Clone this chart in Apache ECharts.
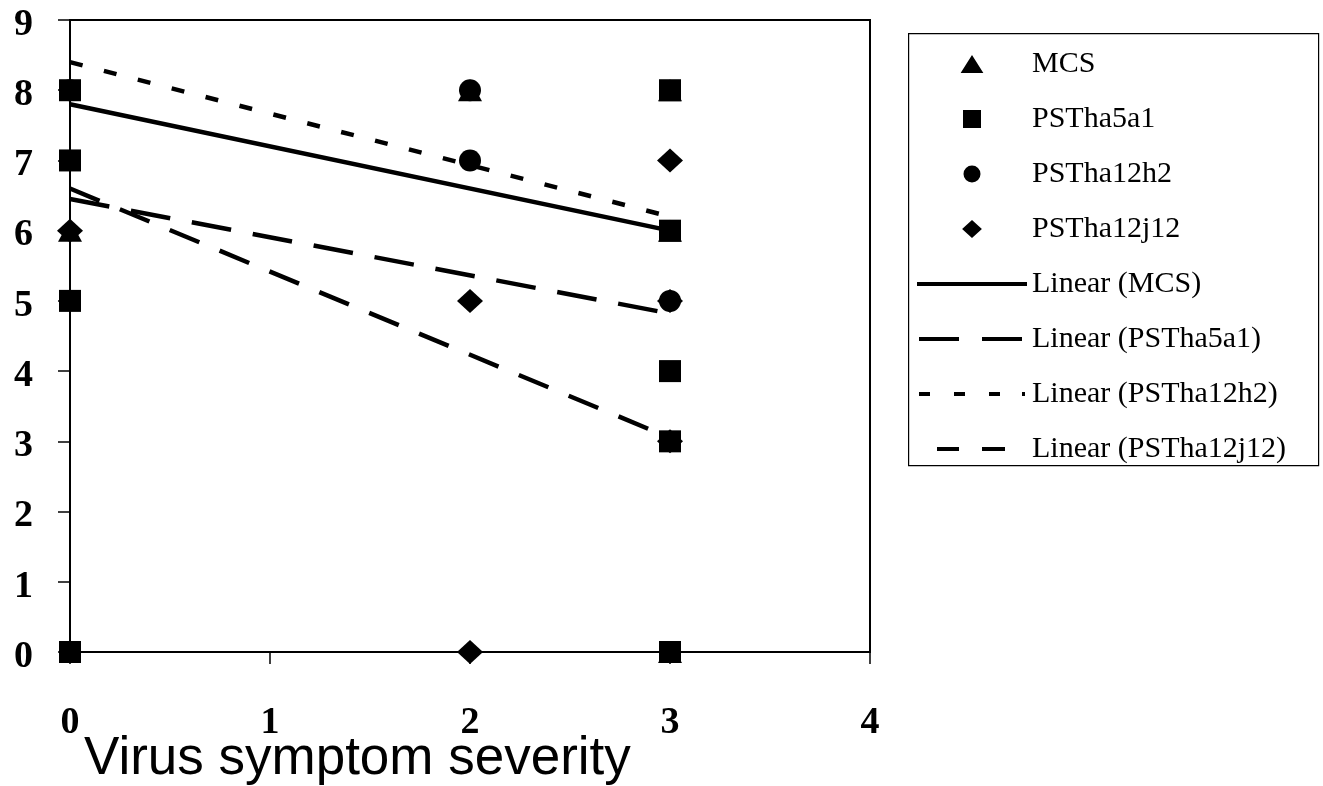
<!DOCTYPE html>
<html>
<head>
<meta charset="utf-8">
<script src="https://cdn.jsdelivr.net/npm/echarts@6/dist/echarts.min.js"></script>
<style>
html,body{margin:0;padding:0;background:#fff;}
#chart{width:1323px;height:786px;}
</style>
</head>
<body>
<div id="chart"></div>
<script>
// ---- data ----
const xTicks = [0, 1, 2, 3, 4];
const yTicks = [0, 1, 2, 3, 4, 5, 6, 7, 8, 9];
const seriesNames = ['MCS', 'PSTha5a1', 'PSTha12h2', 'PSTha12j12'];
const trendNames = ['Linear (MCS)', 'Linear (PSTha5a1)', 'Linear (PSTha12h2)', 'Linear (PSTha12j12)'];
const mcsPoints = [[0, 6], [2, 8], [3, 8], [3, 6], [3, 0]];
const a5a1Points = [[0, 8], [0, 7], [0, 5], [0, 0], [3, 8], [3, 6], [3, 4], [3, 3], [3, 0]];
const h2Points = [[0, 8], [2, 8], [2, 7], [3, 5]];
const j12Points = [[0, 6], [2, 5], [2, 0], [3, 7], [3, 5], [3, 3]];
// trend lines (linear fits), values at x = 0 and x = 3
const trendX = [0, 3];
const trendMCS = [7.8, 6.0];
const trend5a1 = [6.45, 4.82];
const trendH2 = [8.4, 6.2];
const trendJ12 = [6.6, 3.05];

const serif = "'Liberation Serif', 'Times New Roman', serif";
const sans = "'Liberation Sans', Arial, sans-serif";

function pairs(xs, ys) { return xs.map((x, i) => [x, ys[i]]); }

// legend icons: 110 x 18 box; tiny invisible corner marks keep the box size fixed
const box = 'M0,0 L0.01,0 L0,0.01 Z M110,18 L109.99,18 L110,17.99 Z ';
function dashIcon(segs) {
  return 'path://' + box + segs.map(s => `M${s[0]},7 L${s[1]},7 L${s[1]},11 L${s[0]},11 Z`).join(' ');
}
const legendIcons = {
  'MCS': 'path://' + box + 'M43,18 L55,-1 L67,18 Z',
  'PSTha5a1': 'path://' + box + 'M46,0 L64,0 L64,18 L46,18 Z',
  'PSTha12h2': 'path://' + box + 'M46.5,9 A8.5,8.5 0 1,0 63.5,9 A8.5,8.5 0 1,0 46.5,9 Z',
  'PSTha12j12': 'path://' + box + 'M44,9 L55,-1 L66,9 L55,19 Z',
  'Linear (MCS)': dashIcon([[0, 110]]),
  'Linear (PSTha5a1)': dashIcon([[2, 42], [65, 105]]),
  'Linear (PSTha12h2)': dashIcon([[2, 13], [37, 48], [72, 83], [105, 108]]),
  'Linear (PSTha12j12)': dashIcon([[20, 42], [65, 88]])
};

const chart = echarts.init(document.getElementById('chart'), null, {renderer: 'canvas'});

const scatterBase = {
  type: 'scatter',
  itemStyle: {color: '#000', opacity: 1},
  emphasis: {disabled: true},
  z: 3
};
const lineBase = {
  type: 'line',
  symbol: 'none',
  showSymbol: false,
  silent: true,
  z: 2
};

chart.setOption({
  animation: false,
  backgroundColor: '#fff',
  grid: {left: 70, top: 20, width: 800, height: 632, show: true, borderColor: '#000', borderWidth: 2, backgroundColor: 'transparent'},
  title: {
    text: 'Virus symptom severity',
    left: 84, top: 733,
    padding: 0,
    textStyle: {fontFamily: sans, fontSize: 53, fontWeight: 'normal', color: '#000'}
  },
  graphic: [{
    type: 'rect', left: 908, top: 33, z: 0,
    shape: {width: 410, height: 432},
    style: {fill: '#fff', stroke: '#000', lineWidth: 1.2}
  }],
  legend: {
    orient: 'vertical',
    left: 908, top: 33,
    padding: [16, 10, 4, 9],
    itemWidth: 110, itemHeight: 18,
    itemGap: 25,
    symbolKeepAspect: true,
    z: 5,
    itemStyle: {color: '#000', borderWidth: 0},
    data: seriesNames.concat(trendNames).map(n => ({name: n, icon: legendIcons[n]})),
    textStyle: {fontFamily: serif, fontSize: 30, lineHeight: 30, color: '#000'},
    selectedMode: false
  },
  xAxis: {
    type: 'value', min: 0, max: 4, interval: 1,
    axisLine: {show: true, onZero: false, lineStyle: {color: '#000', width: 2}},
    axisTick: {show: true, length: 12, lineStyle: {color: '#000', width: 1.5}},
    splitLine: {show: false},
    axisLabel: {margin: 52, fontFamily: serif, fontWeight: 'bold', fontSize: 38, color: '#000',
      formatter: v => String(xTicks[xTicks.indexOf(v)])}
  },
  yAxis: {
    type: 'value', min: 0, max: 9, interval: 1,
    axisLine: {show: true, onZero: false, lineStyle: {color: '#000', width: 2}},
    axisTick: {show: true, length: 12, lineStyle: {color: '#000', width: 1.5}},
    splitLine: {show: false},
    axisLabel: {margin: 37, fontFamily: serif, fontWeight: 'bold', fontSize: 38, color: '#000',
      verticalAlign: 'top', lineHeight: 10,
      formatter: v => String(yTicks[yTicks.indexOf(v)])}
  },
  series: [
    Object.assign({}, lineBase, {name: trendNames[0], data: pairs(trendX, trendMCS),
      lineStyle: {color: '#000', width: 4.5, type: 'solid'}, itemStyle: {color: '#000'}}),
    Object.assign({}, lineBase, {name: trendNames[1], data: pairs(trendX, trend5a1),
      lineStyle: {color: '#000', width: 4.5, type: [40, 22]}, itemStyle: {color: '#000'}}),
    Object.assign({}, lineBase, {name: trendNames[2], data: pairs(trendX, trendH2),
      lineStyle: {color: '#000', width: 4.5, type: [13, 22]}, itemStyle: {color: '#000'}}),
    Object.assign({}, lineBase, {name: trendNames[3], data: pairs(trendX, trendJ12),
      lineStyle: {color: '#000', width: 4.5, type: [32, 22]}, itemStyle: {color: '#000'}}),
    Object.assign({}, scatterBase, {name: seriesNames[0], data: mcsPoints, symbol: 'triangle', symbolSize: [24, 22]}),
    Object.assign({}, scatterBase, {name: seriesNames[1], data: a5a1Points, symbol: 'rect', symbolSize: 22}),
    Object.assign({}, scatterBase, {name: seriesNames[2], data: h2Points, symbol: 'circle', symbolSize: 22}),
    Object.assign({}, scatterBase, {name: seriesNames[3], data: j12Points, symbol: 'diamond', symbolSize: [26, 24]})
  ]
});
</script>
</body>
</html>
